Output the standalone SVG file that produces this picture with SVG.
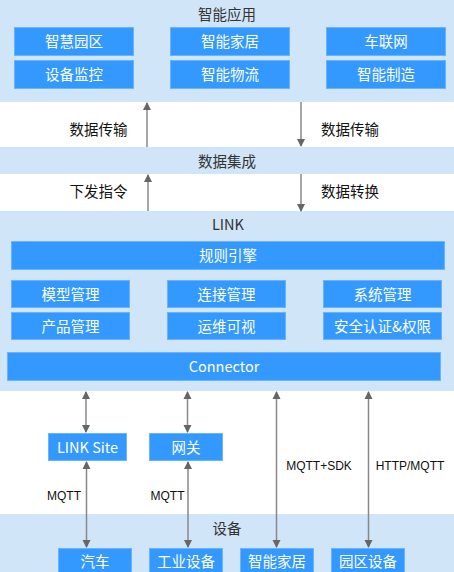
<svg xmlns="http://www.w3.org/2000/svg" width="454" height="572" viewBox="0 0 454 572">
<defs>
<style>
.band{fill:#d1e5f8}
.box{fill:#3399ff;stroke:#6ab3ff;stroke-width:1}
.bt{fill:#ffffff;font-family:"Noto Sans CJK SC","Noto Sans",sans-serif;font-size:14.5px;text-anchor:middle;dominant-baseline:central}
.tt{fill:#333333;font-family:"Noto Sans CJK SC","Noto Sans",sans-serif;font-size:14.5px;text-anchor:middle;dominant-baseline:central}
.lt{fill:#111111;font-family:"Noto Sans CJK SC","Noto Sans",sans-serif;font-size:14.5px;text-anchor:middle;dominant-baseline:central}
.pt{fill:#111111;font-family:"Liberation Sans",Arial,sans-serif;font-size:12px;text-anchor:middle;dominant-baseline:central}
.ln{stroke:#888888;stroke-width:1.5;fill:none}
</style>
<marker id="ah" viewBox="0 0 8 10" refX="7" refY="5" markerWidth="8" markerHeight="10" markerUnits="userSpaceOnUse" orient="auto-start-reverse">
<path d="M0,1 L8,5 L0,9 Z" fill="#666666"/>
</marker>
</defs>
<rect width="454" height="572" fill="#ffffff"/>

<g id="band-app">
<rect class="band" x="0" y="0" width="454" height="102"/>
<text class="tt" x="227" y="13">智能应用</text>
</g>
<g id="n-zhyq"><rect class="box" x="14.5" y="27.5" width="119" height="28"/><text class="bt" x="74" y="40.5">智慧园区</text></g>
<g id="n-znjj"><rect class="box" x="170.5" y="27.5" width="119" height="28"/><text class="bt" x="230" y="40.5">智能家居</text></g>
<g id="n-clw"><rect class="box" x="326.5" y="27.5" width="119" height="28"/><text class="bt" x="386" y="40.5">车联网</text></g>
<g id="n-sbjk"><rect class="box" x="14.5" y="60.5" width="119" height="28"/><text class="bt" x="74" y="73.5">设备监控</text></g>
<g id="n-znwl"><rect class="box" x="170.5" y="60.5" width="119" height="28"/><text class="bt" x="230" y="73.5">智能物流</text></g>
<g id="n-znzz"><rect class="box" x="326.5" y="60.5" width="119" height="28"/><text class="bt" x="386" y="73.5">智能制造</text></g>

<g id="band-integ">
<rect class="band" x="0" y="147" width="454" height="27"/>
<text class="tt" x="227" y="160">数据集成</text>
</g>

<g id="band-link">
<rect class="band" x="0" y="211" width="454" height="180"/>
<text class="tt" x="228" y="223.5">LINK</text>
</g>
<g id="n-gzyq"><rect class="box" x="11.5" y="241.5" width="433" height="28"/><text class="bt" x="228" y="254.5">规则引擎</text></g>
<g id="n-mxgl"><rect class="box" x="11.5" y="280.5" width="118" height="27"/><text class="bt" x="70.5" y="293">模型管理</text></g>
<g id="n-ljgl"><rect class="box" x="167.5" y="280.5" width="118" height="27"/><text class="bt" x="226.5" y="293">连接管理</text></g>
<g id="n-xtgl"><rect class="box" x="323.5" y="280.5" width="118" height="27"/><text class="bt" x="382.5" y="293">系统管理</text></g>
<g id="n-cpgl"><rect class="box" x="11.5" y="312.5" width="118" height="27"/><text class="bt" x="70.5" y="325">产品管理</text></g>
<g id="n-ywks"><rect class="box" x="167.5" y="312.5" width="118" height="27"/><text class="bt" x="226.5" y="325">运维可视</text></g>
<g id="n-aqrz"><rect class="box" x="323.5" y="312.5" width="118" height="27"/><text class="bt" x="382.5" y="325">安全认证&amp;权限</text></g>
<g id="n-connector"><rect class="box" x="7.5" y="352.5" width="433" height="28"/><text class="bt" x="224" y="365.5">Connector</text></g>

<g id="n-linksite"><rect class="box" x="48.5" y="433.5" width="78" height="27"/><text class="bt" x="87.5" y="446">LINK Site</text></g>
<g id="n-wg"><rect class="box" x="149.5" y="433.5" width="73" height="27"/><text class="bt" x="186" y="446">网关</text></g>

<g id="band-dev">
<rect class="band" x="0" y="514" width="454" height="58"/>
<text class="tt" x="227" y="527.5">设备</text>
</g>
<g id="n-qc"><rect class="box" x="58.5" y="548.5" width="73" height="26"/><text class="bt" x="95" y="560.5">汽车</text></g>
<g id="n-gysb"><rect class="box" x="149.5" y="548.5" width="73" height="26"/><text class="bt" x="186" y="560.5">工业设备</text></g>
<g id="n-znjj2"><rect class="box" x="240.5" y="548.5" width="73" height="26"/><text class="bt" x="277" y="560.5">智能家居</text></g>
<g id="n-yqsb"><rect class="box" x="331.5" y="548.5" width="73" height="26"/><text class="bt" x="368" y="560.5">园区设备</text></g>

<g id="connectors">
<line class="ln" x1="147" y1="147" x2="147" y2="103" marker-end="url(#ah)"/>
<line class="ln" x1="301" y1="102" x2="301" y2="146" marker-end="url(#ah)"/>
<line class="ln" x1="148" y1="211" x2="148" y2="175" marker-end="url(#ah)"/>
<line class="ln" x1="301" y1="174" x2="301" y2="211" marker-end="url(#ah)"/>
<line class="ln" x1="86" y1="392" x2="86" y2="432" marker-start="url(#ah)" marker-end="url(#ah)"/>
<line class="ln" x1="187.5" y1="392" x2="187.5" y2="432" marker-start="url(#ah)" marker-end="url(#ah)"/>
<line class="ln" x1="86.5" y1="462" x2="86.5" y2="547" marker-start="url(#ah)" marker-end="url(#ah)"/>
<line class="ln" x1="188" y1="462" x2="188" y2="547" marker-start="url(#ah)" marker-end="url(#ah)"/>
<line class="ln" x1="276.5" y1="392" x2="276.5" y2="547" marker-start="url(#ah)" marker-end="url(#ah)"/>
<line class="ln" x1="368.5" y1="392" x2="368.5" y2="547" marker-start="url(#ah)" marker-end="url(#ah)"/>
<text class="lt" x="98.5" y="128">数据传输</text>
<text class="lt" x="350" y="128">数据传输</text>
<text class="lt" x="98.5" y="190">下发指令</text>
<text class="lt" x="350" y="190">数据转换</text>
<text class="pt" x="64" y="496">MQTT</text>
<text class="pt" x="167.5" y="496">MQTT</text>
<text class="pt" x="319" y="466">MQTT+SDK</text>
<text class="pt" x="410" y="466">HTTP/MQTT</text>
</g>
</svg>
